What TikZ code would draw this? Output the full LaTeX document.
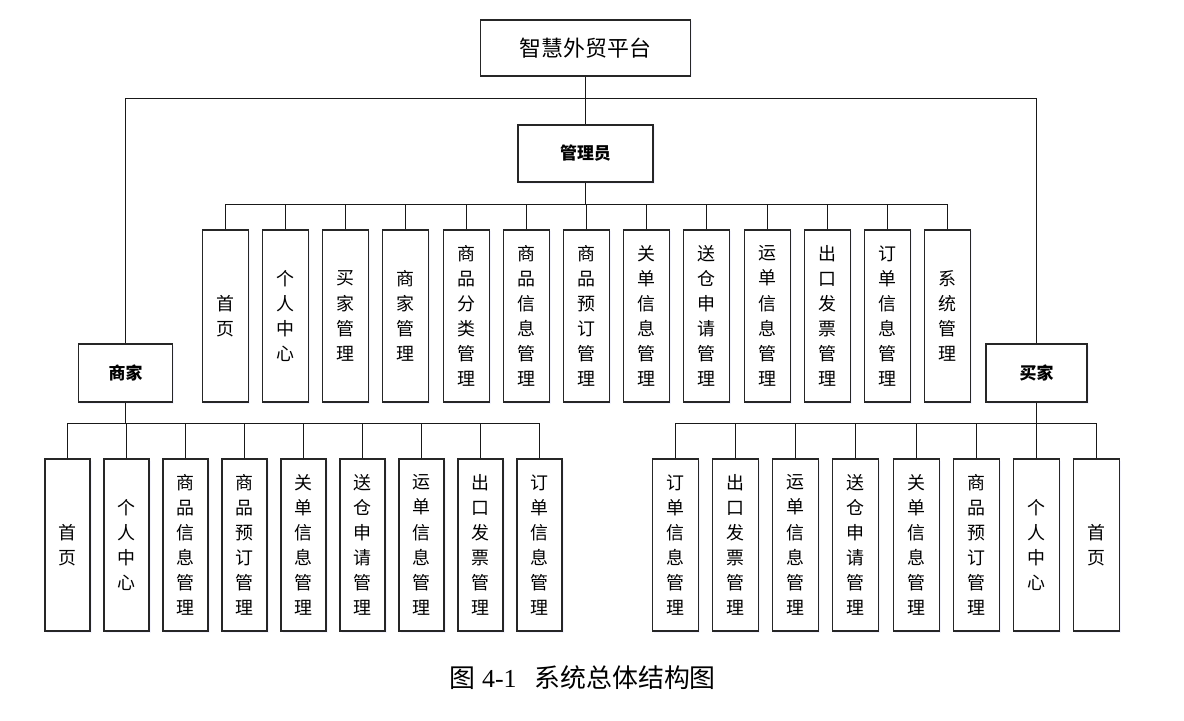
\documentclass[tikz,border=0pt]{standalone}
\usepackage{fontspec}
\newfontfamily\cjk{Noto Sans CJK SC}
\newfontfamily\numfont{Liberation Serif}
\usetikzlibrary{shadows}
\tikzset{
  frame/.style={draw=black!85, line width=1.8bp, fill=white, inner sep=0pt,
    drop shadow={shadow xshift=1.5bp, shadow yshift=-1.5bp, opacity=0.35, fill=blue!12}},
  vbox/.style={frame, minimum width=46bp, minimum height=172bp, align=center,
    font={\cjk\fontsize{18}{25.2}\selectfont}},
  rolebox/.style={frame, minimum height=58bp, font={\cjk\bfseries\fontsize{17}{20}\selectfont}},
  link/.style={draw=black!90, line width=1.8bp},
}
\begin{document}
\begin{tikzpicture}[x=1bp,y=-1bp]
\useasboundingbox (0,0) rectangle (1184,721);
% root
\node[frame, minimum width=210bp, minimum height=56bp, font={\cjk\fontsize{22}{26}\selectfont}] (root) at (585.5,48) {智慧外贸平台};
\node[rolebox, minimum width=135bp, minimum height=57bp] (mgr) at (585.5,153.5) {管理员};
\node[rolebox, minimum width=94bp] (merch) at (125.5,373) {商家};
\node[rolebox, minimum width=101bp] (buyer) at (1036.5,373) {买家};
\coordinate (topj) at (585.5,98.5);
\coordinate (busM) at (585.5,204.5);
\coordinate (busL) at (125.5,423.5);
\coordinate (busR) at (1036.5,423.5);
% connectors top
\draw[link] (root.south) -- (mgr.north);
\draw[link] (merch.north) |- (topj);
\draw[link] (buyer.north) |- (topj);
\draw[link] (mgr.south) -- (busM);
\draw[link] (merch.south) -- (busL);
\draw[link] (buyer.south) -- (busR);
% admin children
\foreach \i/\x/\t in {1/225.5/{首\\页}, 2/285.5/{个\\人\\中\\心}, 3/345.5/{买\\家\\管\\理}, 4/405.5/{商\\家\\管\\理},
  5/466.5/{商\\品\\分\\类\\管\\理}, 6/526.5/{商\\品\\信\\息\\管\\理}, 7/586.5/{商\\品\\预\\订\\管\\理},
  8/646.5/{关\\单\\信\\息\\管\\理}, 9/706.5/{送\\仓\\申\\请\\管\\理}, 10/767.5/{运\\单\\信\\息\\管\\理},
  11/827.5/{出\\口\\发\\票\\管\\理}, 12/887.5/{订\\单\\信\\息\\管\\理}, 13/947.5/{系\\统\\管\\理}}{
  \node[vbox] (m\i) at (\x,316) {\t};
  \draw[link] (m\i.north) |- (busM);
}
% merchant children
\foreach \i/\x/\t in {1/67.5/{首\\页}, 2/126.5/{个\\人\\中\\心}, 3/185.5/{商\\品\\信\\息\\管\\理},
  4/244.5/{商\\品\\预\\订\\管\\理}, 5/303.5/{关\\单\\信\\息\\管\\理}, 6/362.5/{送\\仓\\申\\请\\管\\理},
  7/421.5/{运\\单\\信\\息\\管\\理}, 8/480.5/{出\\口\\发\\票\\管\\理}, 9/539.5/{订\\单\\信\\息\\管\\理}}{
  \node[vbox, minimum width=45bp] (s\i) at (\x,545) {\t};
  \draw[link] (s\i.north) |- (busL);
}
% buyer children
\foreach \i/\x/\t in {1/675.5/{订\\单\\信\\息\\管\\理}, 2/735.5/{出\\口\\发\\票\\管\\理}, 3/795.5/{运\\单\\信\\息\\管\\理},
  4/855.5/{送\\仓\\申\\请\\管\\理}, 5/916.5/{关\\单\\信\\息\\管\\理}, 6/976.5/{商\\品\\预\\订\\管\\理},
  7/1036.5/{个\\人\\中\\心}, 8/1096.5/{首\\页}}{
  \node[vbox] (b\i) at (\x,545) {\t};
  \draw[link] (b\i.north) |- (busR);
}
% caption
\node[font={\cjk\fontsize{26}{30}\selectfont}, inner sep=0pt] (cap) at (582.5,678) {图\hspace{7pt}{\numfont 4-1}\hspace{18pt}系统总体结构图};
\end{tikzpicture}
\end{document}
